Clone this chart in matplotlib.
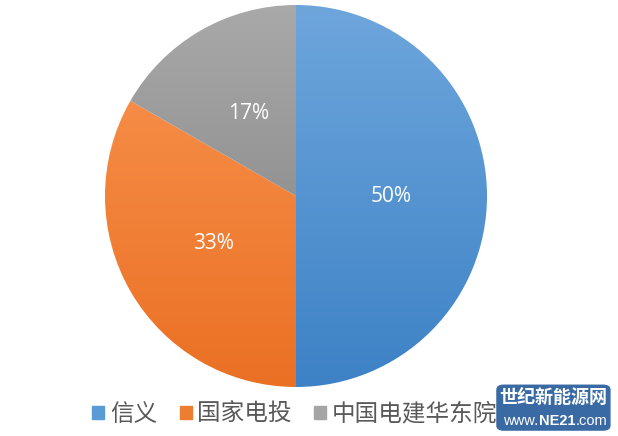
import matplotlib.pyplot as plt
import numpy as np
from matplotlib.colors import LinearSegmentedColormap
from matplotlib.patches import Rectangle, FancyBboxPatch

plt.rcParams['font.family'] = ['Noto Sans CJK SC', 'DejaVu Sans']

labels = ['信义', '国家电投', '中国电建华东院']
shares = [50.0, 33.3, 16.7]
# gradient (top, bottom) per slice
top_colors = ['#6ea6dc', '#f68c46', '#a9a9a9']
bottom_colors = ['#3d82c6', '#ea7024', '#939393']
legend_colors = ['#5b9bd5', '#ed7d31', '#a5a5a5']

fig = plt.figure(figsize=(6.18, 4.36), dpi=100)
ax = fig.add_axes([105 / 618, 49 / 436, 382 / 618, 382 / 436])

wedges, texts, autotexts = ax.pie(shares, startangle=90, counterclock=False,
                                  autopct='%.0f%%', pctdistance=0.5,
                                  wedgeprops=dict(linewidth=0),
                                  textprops=dict(color='white', fontsize=15,
                                                 family=['Open Sans', 'DejaVu Sans']))

# Excel-like vertical gradient, clipped to each wedge
for w, c0, c1 in zip(wedges, top_colors, bottom_colors):
    ext = w.get_path().get_extents()
    cmap = LinearSegmentedColormap.from_list('g', [c1, c0])
    grad = np.linspace(0, 1, 256).reshape(-1, 1)
    im = ax.imshow(grad, cmap=cmap, origin='lower', aspect='auto',
                   extent=[ext.x0, ext.x1, ext.y0, ext.y1], zorder=1)
    im.set_clip_path(w)
    w.set_facecolor('none')
for t in autotexts:
    t.set_zorder(5)
ax.set_xlim(-1, 1)
ax.set_ylim(-1, 1)
ax.set_aspect('equal')
ax.axis('off')

handles = [Rectangle((0, 0), 1, 1, color=c) for c in legend_colors]
fig.legend(handles, labels, loc='center left', bbox_to_anchor=(0.115, 0.05), ncol=3,
           frameon=False, fontsize=17, handlelength=0.5, handleheight=0.5,
           handletextpad=0.25, columnspacing=0.95, labelcolor='#595959')

# watermark (drawn over the end of the legend, as in the source image)
box = FancyBboxPatch((0.803, 0.012), 0.185, 0.106, transform=fig.transFigure,
                     boxstyle='round,pad=0,rounding_size=0.012',
                     fc='#3a6aa3', ec='none', zorder=10)
fig.add_artist(box)
fig.text(0.895, 0.088, '世纪新能源网', ha='center', va='center', color='white',
         fontsize=13, fontweight='bold', zorder=11)
fig.text(0.870, 0.034, 'www.', ha='right', va='center', color='white',
         fontsize=10.5, family=['Liberation Sans'], zorder=11)
fig.text(0.901, 0.034, 'NE21', ha='center', va='center', color='white',
         fontsize=10.5, fontweight='bold', family=['Liberation Sans'], zorder=11)
fig.text(0.932, 0.034, '.com', ha='left', va='center', color='white',
         fontsize=10.5, family=['Liberation Sans'], zorder=11)

fig.savefig('out.png', dpi=100)
